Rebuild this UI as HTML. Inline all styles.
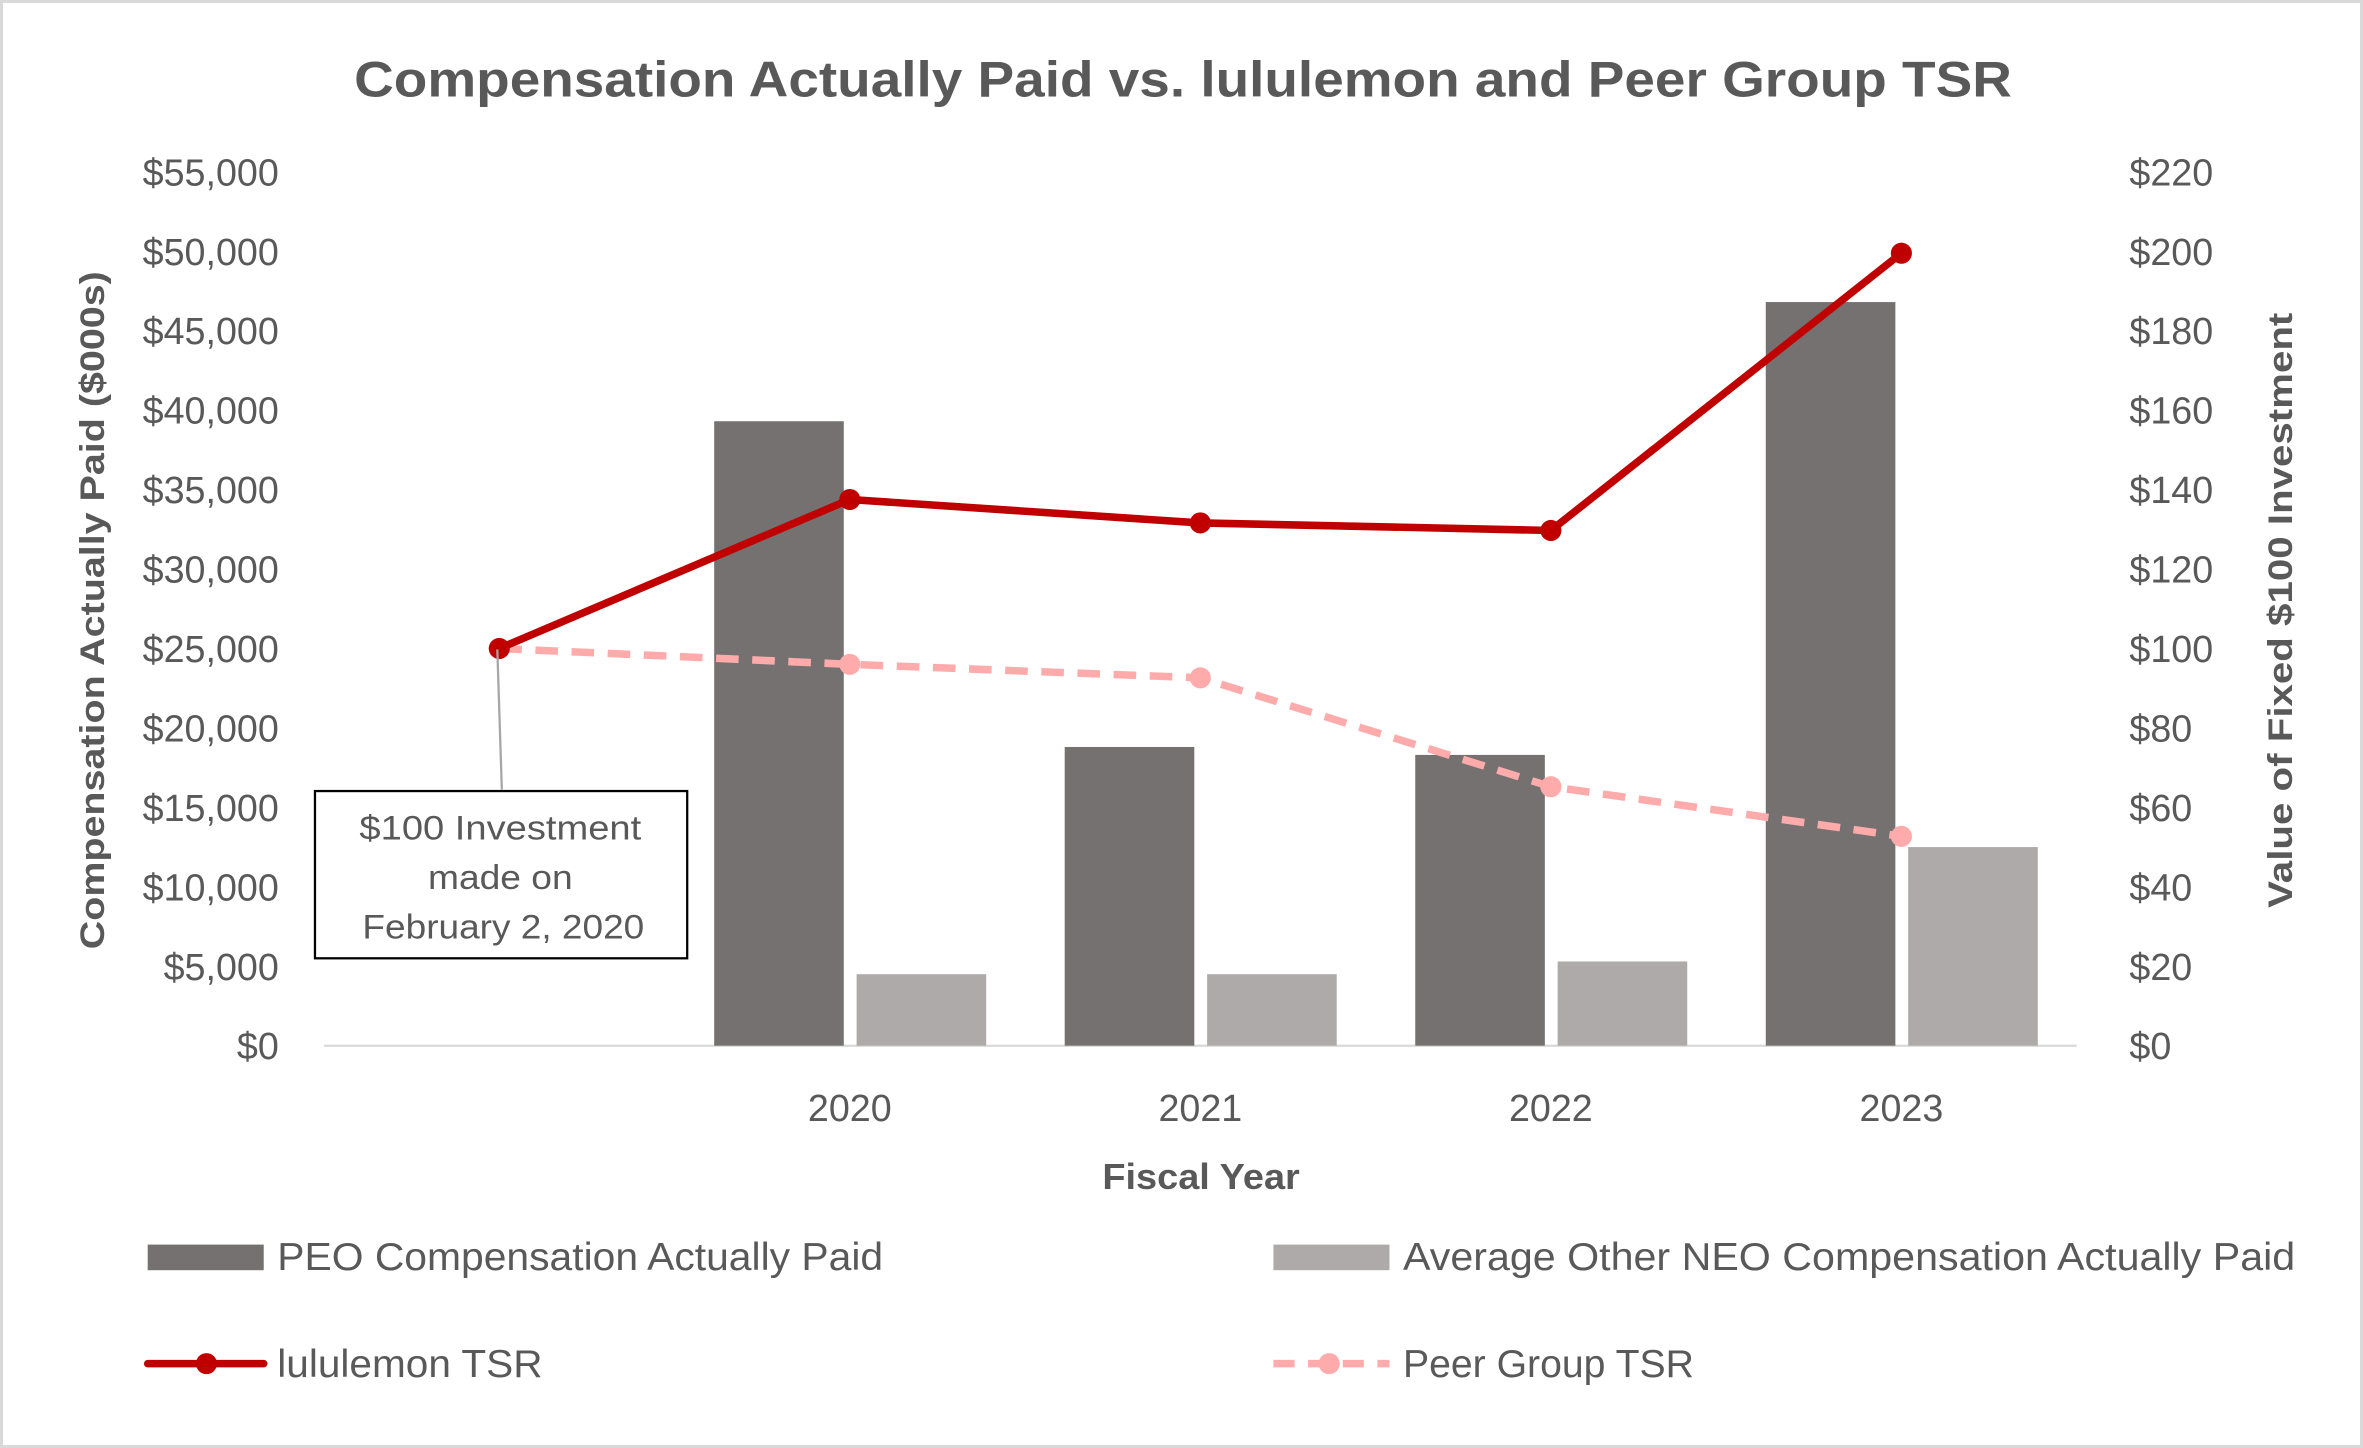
<!DOCTYPE html>
<html><head><meta charset="utf-8"><style>
html,body{margin:0;padding:0;background:#fff;}
svg{display:block;}
text{font-family:"Liberation Sans",sans-serif;fill:#595959;}
</style></head><body>
<svg id="chart" width="2363" height="1448" viewBox="0 0 1568 961" preserveAspectRatio="none" xmlns="http://www.w3.org/2000/svg">
<rect x="1" y="1" width="1566" height="959" fill="#fff" stroke="#d9d9d9" stroke-width="2"/>
<text x="785" y="64" text-anchor="middle" font-size="33" font-weight="bold" textLength="1100" lengthAdjust="spacingAndGlyphs">Compensation Actually Paid vs. lululemon and Peer Group TSR</text>
<g id="axes"></g>
<g id="marks"></g>
<line x1="330" y1="431" x2="333" y2="524" stroke="#a6a6a6" stroke-width="1.5"/>
<g>
<rect x="209" y="525" width="247" height="111" fill="#fff" stroke="#000" stroke-width="1.5"/>
<text x="332" y="557" text-anchor="middle" font-size="23" fill="#404040" textLength="187" lengthAdjust="spacingAndGlyphs">$100 Investment</text>
<text x="332" y="590" text-anchor="middle" font-size="23" fill="#404040" textLength="96" lengthAdjust="spacingAndGlyphs">made on</text>
<text x="334" y="623" text-anchor="middle" font-size="23" fill="#404040" textLength="187" lengthAdjust="spacingAndGlyphs">February 2, 2020</text>
</g>
<text x="797" y="789" text-anchor="middle" font-size="24" font-weight="bold" textLength="131" lengthAdjust="spacingAndGlyphs">Fiscal Year</text>
<text transform="translate(69,405) rotate(-90)" text-anchor="middle" font-size="23" font-weight="bold" textLength="450" lengthAdjust="spacingAndGlyphs">Compensation Actually Paid ($000s)</text>
<text transform="translate(1521,405) rotate(-90)" text-anchor="middle" font-size="23" font-weight="bold" textLength="395" lengthAdjust="spacingAndGlyphs">Value of Fixed $100 Investment</text>
<g>
<g><rect x="98" y="826" width="77" height="17" fill="#767171"/><text x="184" y="843" font-size="26" textLength="402" lengthAdjust="spacingAndGlyphs">PEO Compensation Actually Paid</text></g>
<g><rect x="845" y="826" width="77" height="17" fill="#AEAAAA"/><text x="931" y="843" font-size="26" textLength="592" lengthAdjust="spacingAndGlyphs">Average Other NEO Compensation Actually Paid</text></g>
<g><line x1="98" y1="905" x2="175" y2="905" stroke="#C00000" stroke-width="5" stroke-linecap="round"/><circle cx="137" cy="905" r="7" fill="#C00000"/><text x="184" y="914" font-size="26" textLength="176" lengthAdjust="spacingAndGlyphs">lululemon TSR</text></g>
<g><line x1="845" y1="905" x2="922" y2="905" stroke="#FFABAB" stroke-width="5" stroke-dasharray="14,9"/><circle cx="882" cy="905" r="7" fill="#FFABAB"/><text x="931" y="914" font-size="26" textLength="193" lengthAdjust="spacingAndGlyphs">Peer Group TSR</text></g>
</g>
</svg>
<script>
const categories = ["", "2020", "2021", "2022", "2023"];
const peoValues = [null, 39300, 18800, 18300, 46800];
const neoValues = [null, 4500, 4500, 5300, 12500];
const luluTSR = [100, 137.5, 131.6, 129.7, 199.5];
const peerTSR = [100, 96, 92.6, 65.2, 52.7];
const leftTicks = [0,5000,10000,15000,20000,25000,30000,35000,40000,45000,50000,55000];
const rightTicks = [0,20,40,60,80,100,120,140,160,180,200,220];

const NS="http://www.w3.org/2000/svg";
const plotL=215, plotR=1378, plotT=114, plotB=694;
const slot=(plotR-plotL)/categories.length;
const xc=i=>plotL+slot*(i+0.5);
const yL=v=>plotB-(v/55000)*(plotB-plotT);
const yR=v=>plotB-(v/220)*(plotB-plotT);
function mk(tag,attrs,parent){const e=document.createElementNS(NS,tag);for(const k in attrs)e.setAttribute(k,attrs[k]);parent.appendChild(e);return e;}
const axes=document.getElementById('axes'), marks=document.getElementById('marks');
const fmt=v=>'$'+v.toLocaleString('en-US');
leftTicks.forEach(v=>{const t=mk('text',{x:185,y:yL(v)+9,'text-anchor':'end','font-size':'25'},axes);t.textContent=fmt(v);

});
rightTicks.forEach(v=>{const t=mk('text',{x:1413,y:yR(v)+9,'font-size':'25'},axes);t.textContent=fmt(v);

});
const base=mk('line',{x1:plotL,y1:plotB,x2:plotR,y2:plotB,stroke:'#d9d9d9','stroke-width':1.5},axes);


categories.forEach((c,i)=>{if(!c)return;const t=mk('text',{x:xc(i),y:744,'text-anchor':'middle','font-size':'25'},axes);t.textContent=c;

});
const bw=86, gap=9;
categories.forEach((c,i)=>{
 if(peoValues[i]!=null){const r=mk('rect',{x:xc(i)-bw-gap/2+0.5,y:yL(peoValues[i]),width:bw,height:plotB-yL(peoValues[i]),fill:'#767171'},marks);
 
 }
 if(neoValues[i]!=null){const r=mk('rect',{x:xc(i)+gap/2,y:yL(neoValues[i]),width:bw,height:plotB-yL(neoValues[i]),fill:'#AEAAAA'},marks);
 
 }
});
function series(vals,color,dash,name){
 const pts=vals.map((v,i)=>xc(i)+','+yR(v)).join(' ');
 const p=mk('polyline',{points:pts,fill:'none',stroke:color,'stroke-width':5,'stroke-linejoin':'round'},marks);
 if(dash)p.setAttribute('stroke-dasharray',dash);
 
 
 vals.forEach((v,i)=>{const c=mk('circle',{cx:xc(i),cy:yR(v),r:7,fill:color},marks);
 
 });
}
series(peerTSR,'#FFABAB','15,9','peer-tsr');
series(luluTSR,'#C00000',null,'lululemon-tsr');
</script>
</body></html>
